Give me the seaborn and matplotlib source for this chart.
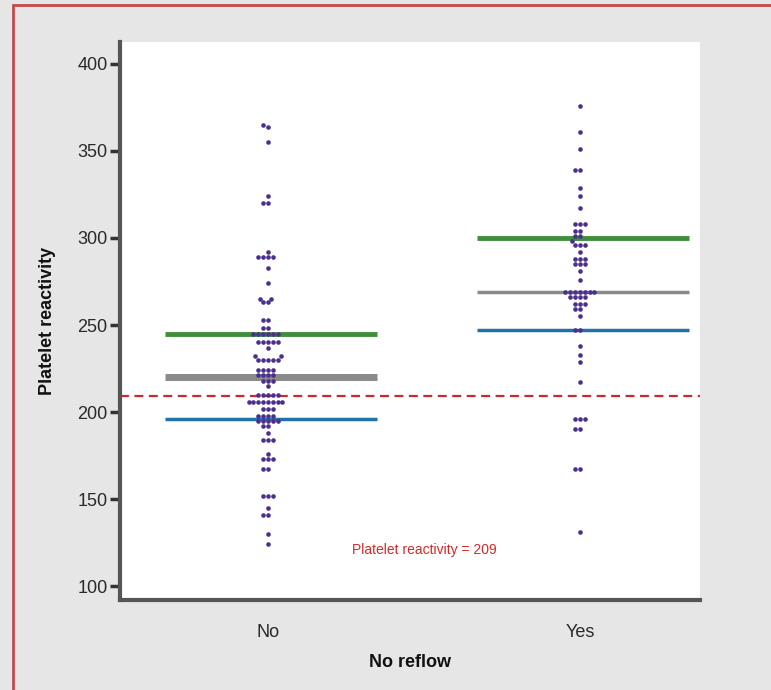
import numpy as np
import pandas as pd
import matplotlib.pyplot as plt
import matplotlib.patches as patches
import seaborn as sns

# platelet reactivity values, per group
no_reflow_no = (
    [365, 364, 355, 324, 320, 320, 292] + [289] * 4 + [283, 274] + [265] * 2 + [263] * 2
    + [253] * 2 + [248] * 2 + [245] * 6 + [240] * 5 + [237] + [232] * 2 + [230] * 5
    + [224] * 4 + [221] * 4 + [218] * 3 + [215] + [210] * 5 + [206] * 8 + [202] * 3
    + [198] * 4 + [195] * 5 + [192] * 2 + [188] + [184] * 3 + [176] + [173] * 3
    + [167] * 2 + [152] * 3 + [145] + [141] * 2 + [130, 124]
)
no_reflow_yes = (
    [376, 361, 351, 339, 339, 329, 324, 317] + [308] * 3 + [304] * 2 + [301] * 2 + [298]
    + [296] * 3 + [292] + [288] * 3 + [285] * 3 + [281, 276] + [269] * 7 + [266] * 4
    + [262] * 3 + [259] * 2 + [255] + [247] * 2 + [238, 233, 229, 217] + [196] * 3
    + [190] * 2 + [167] * 2 + [131]
)
groups = ["No", "Yes"]
upper_lines = [245, 300]
mid_lines = [220, 269]
lower_lines = [196, 247]
cutoff = 209

df = pd.DataFrame({
    "reflow": ["No"] * len(no_reflow_no) + ["Yes"] * len(no_reflow_yes),
    "value": no_reflow_no + no_reflow_yes,
})

sns.set_style("white")
plt.rcParams["font.family"] = ["Liberation Sans Narrow", "Liberation Sans", "DejaVu Sans"]

fig = plt.figure(figsize=(7.71, 6.90), dpi=100)
fig.patch.set_facecolor("#e6e6e6")
fig.patches.append(patches.Rectangle((13 / 771, -0.01), 1.0, 1 - 5 / 690 + 0.01,
                                     transform=fig.transFigure, fill=False,
                                     edgecolor="#c44a4a", linewidth=2))
ax = fig.add_axes([120 / 771, 1 - 600 / 690, 580 / 771, 558 / 690])

sns.swarmplot(data=df, x="reflow", y="value", order=groups, color="#4b2f8f",
              size=3.3, ax=ax, zorder=3)

for i, g in enumerate(groups):
    ax.hlines(upper_lines[i], i - 0.33, i + 0.35, color="#3e8e3a", lw=3.5, zorder=2)
    ax.hlines(mid_lines[i], i - 0.33, i + 0.35, color="#8a8a8a", lw=5 if i == 0 else 2.5, zorder=2)
    ax.hlines(lower_lines[i], i - 0.33, i + 0.35, color="#2372a6", lw=2.5, zorder=2)
ax.axhline(cutoff, color="#cc2a2a", lw=1.6, ls=(0, (4, 2.5)), zorder=2)
ax.text(0.5, 121, "Platelet reactivity = 209", color="#d42a2a", fontsize=10, ha="center", va="center")

ax.set_xlim(-0.474, 1.385)
ax.set_ylim(92, 412.6)
ax.set_yticks([100, 150, 200, 250, 300, 350, 400])
ax.set_xlabel("No reflow", fontsize=13, fontweight="bold", color="#111111", labelpad=9)
ax.set_ylabel("Platelet reactivity", fontsize=13, fontweight="bold", color="#111111", labelpad=15)
ax.tick_params(axis="y", left=True, direction="out", length=7, width=2.5, color="#333333",
               labelsize=13, labelcolor="#2a2a2a", pad=2)
ax.tick_params(axis="x", bottom=False, labelsize=13, labelcolor="#2a2a2a", pad=14)
for s in ["top", "right"]:
    ax.spines[s].set_visible(False)
for s in ["left", "bottom"]:
    ax.spines[s].set_color("#555555")
    ax.spines[s].set_linewidth(3)

fig.savefig("out.png", dpi=100, facecolor=fig.get_facecolor())
